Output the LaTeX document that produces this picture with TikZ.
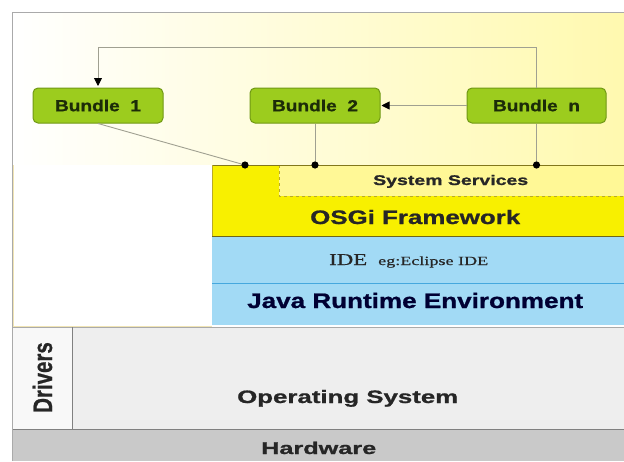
\documentclass[tikz,border=0pt]{standalone}
\usepackage{fontspec}
\setmainfont{Liberation Sans}[BoldFeatures={FakeBold=0.9}]
\newfontfamily\serifx{Liberation Serif}[FakeBold=0.4]
\usepackage{graphicx}
\usetikzlibrary{arrows.meta}
\definecolor{bgy}{RGB}{255,249,175}
\definecolor{bundlefill}{RGB}{156,204,30}
\definecolor{bundledraw}{RGB}{112,152,20}
\definecolor{bundletext}{RGB}{28,44,8}
\definecolor{sspale}{RGB}{255,248,150}
\definecolor{osgiy}{RGB}{248,240,0}
\definecolor{dashcol}{RGB}{185,170,40}
\definecolor{ideblue}{RGB}{162,218,245}
\definecolor{lineblue}{RGB}{70,168,222}
\definecolor{osgray}{RGB}{238,238,238}
\definecolor{drvwhite}{RGB}{248,248,248}
\definecolor{hwgray}{RGB}{201,201,201}
\definecolor{framegray}{RGB}{170,170,170}
\definecolor{conncol}{RGB}{160,160,145}
\definecolor{paleedge}{RGB}{240,228,180}
\newcommand\fitw[3]{\resizebox{#1pt}{\height}{\fontsize{#2}{#2}\selectfont #3}}
\begin{document}
\begin{tikzpicture}[x=1pt,y=-1pt,
  bundlebox/.style={draw=bundledraw,fill=bundlefill,line width=1pt,rounded corners=5pt,
    minimum height=35pt,inner sep=0pt,text=bundletext,font=\bfseries},
  conn/.style={draw=conncol,line width=0.9pt},
  tip/.style={-{Triangle[length=8pt,width=8pt,color=black]}},
  lbl/.style={inner sep=0pt,anchor=base west,text=black!85,font=\bfseries},
  dot/.style={fill=black}]
\useasboundingbox (0,0) rectangle (624,461);
\fill[white] (0,0) rectangle (624,461);
% top gradient area
\shade[left color=white,right color=bgy] (12,12) rectangle (624,165);
% left white box
\fill[white] (12,165) rectangle (212,325);
\draw[paleedge,line width=0.8pt] (13.5,165) -- (13.5,326) -- (212,326);
% OSGi framework block
\fill[osgiy] (212,165) rectangle (624,236);
\fill[sspale] (279,165) rectangle (624,196);
\draw[dashcol,dashed,line width=0.8pt] (279,165) -- (279,196) -- (624,196);
\draw[dashcol!70!black,line width=0.6pt] (212,165) -- (624,165);
\draw[dashcol,line width=0.8pt] (212.5,165) -- (212.5,236);
% blue block
\fill[ideblue] (212,236) rectangle (624,325);
\draw[dashcol!60!black,line width=0.5pt] (212,236) -- (624,236);
\draw[lineblue,line width=0.8pt] (212,283) -- (624,283);
% operating system
\fill[osgray] (12,327) rectangle (624,429);
\fill[drvwhite] (12,327) rectangle (72,429);
\draw[framegray,line width=0.6pt] (12,327) -- (624,327);
\draw[gray,line width=0.8pt] (72,327) -- (72,429);
% hardware
\fill[hwgray] (12,429) rectangle (624,461);
\draw[gray,line width=0.8pt] (12,429) -- (624,429);
% frame
\draw[framegray,line width=1pt] (12,461) -- (12,12) -- (624,12);
% bundles
\node[bundlebox,minimum width=130pt] (b1) at (98,105.5) {\fitw{86}{16}{Bundle~~1}};
\node[bundlebox,minimum width=130pt] (b2) at (315,105.5) {\fitw{86}{16}{Bundle~~2}};
\node[bundlebox,minimum width=139pt] (bn) at (536.5,105.5) {\fitw{87}{16}{Bundle~~n}};
\coordinate (d1) at (245,165);
\coordinate (d2) at (b2.south |- d1);
\coordinate (dn) at (bn.south |- d1);
\draw[conn] (b1.south) -- (d1);
\draw[conn] (b2.south) -- (d2);
\draw[conn] (bn.south) -- (dn);
\draw[conn,tip] (bn.north) -- ++(0,-40) -| ([yshift=1.5pt]b1.north);
\draw[conn,tip] (bn.west) -- ([xshift=1pt]b2.east);
\fill[dot] (d1) circle (3.6pt);
\fill[dot] (d2) circle (3.6pt);
\fill[dot] (dn) circle (3.6pt);
% labels
\node[lbl] (ss) at (373,185) {\fitw{155}{14}{System Services}};
\node[lbl] (osgi) at (310,224) {\fitw{210}{19.5}{OSGi Framework}};
\node[inner sep=0pt,anchor=base west,text=black!85] (ide) at (329,265) {\serifx\fitw{38}{16.5}{IDE}};
\node[inner sep=0pt,anchor=base west,text=black!85] (eg) at (378,265) {\serifx\fitw{110}{12.5}{eg:Eclipse IDE}};
\node[lbl,text=black!80!blue] (jre) at (247,308) {\fitw{336}{21}{Java Runtime Environment}};
\node[inner sep=0pt,anchor=base,rotate=90,text=black!85,font=\bfseries] (drv) at (52,377.5) {\scalebox{1}[1.3]{\fontsize{20.5}{20.5}\selectfont Drivers}};
\node[lbl] (os) at (237,403) {\fitw{221}{18}{Operating System}};
\node[lbl] (hw) at (261,454) {\fitw{115}{17}{Hardware}};
\end{tikzpicture}
\end{document}
